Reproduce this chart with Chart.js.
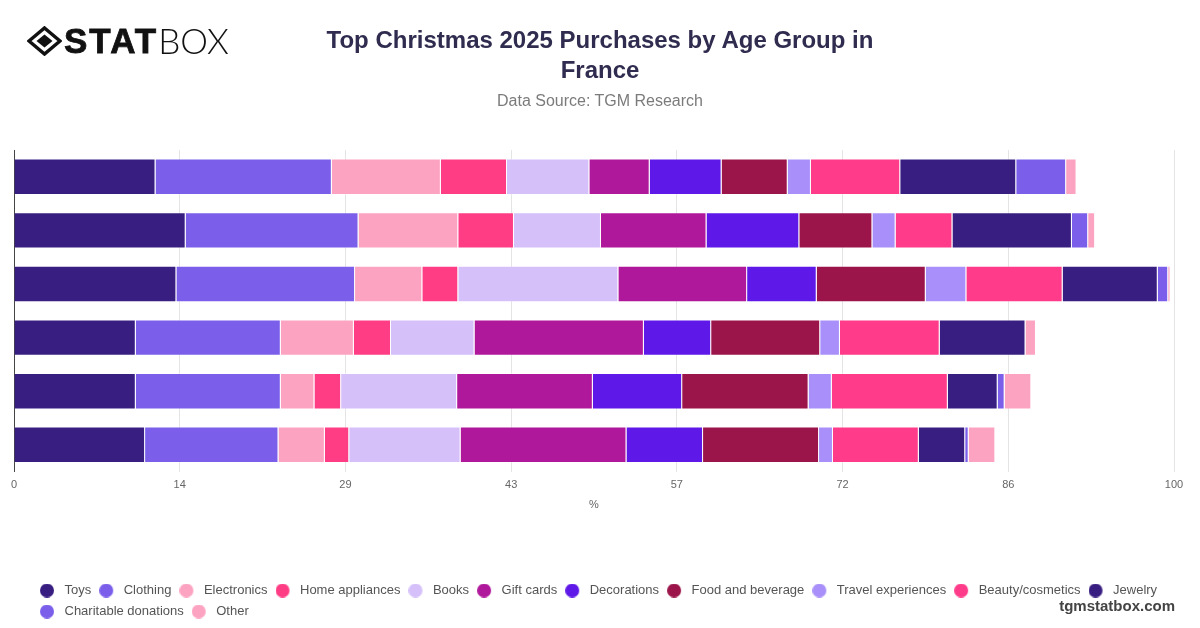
<!DOCTYPE html>
<html>
<head>
<meta charset="utf-8">
<title>Top Christmas 2025 Purchases by Age Group in France</title>
<script src="https://cdn.jsdelivr.net/npm/chart.js@4.4.1/dist/chart.umd.min.js"></script>
<style>
  html, body { margin: 0; padding: 0; background: #fff; }
  #wrap { position: relative; width: 1200px; height: 628px; overflow: hidden; }
  #chart { position: absolute; left: 0; top: 0; }
  .logo { position: absolute; left: 27px; top: 23px; display: flex; align-items: center; color: #111; line-height: 1; }
  .logo svg { margin-right: 2px; }
  .logo .stat { font-family: 'Liberation Sans', Arial, sans-serif; font-weight: 700; font-size: 35px; letter-spacing: 2px; -webkit-text-stroke: 0.8px #111; }
  .logo .box { font-family: Lato, sans-serif; font-weight: 300; font-size: 35px; }
  .head { position: absolute; left: 0; width: 1200px; text-align: center; font-family: 'Liberation Sans', Arial, sans-serif; }
  .head h1 { margin: 0; position: absolute; top: 25px; width: 100%; font-size: 24px; line-height: 30px; font-weight: bold; color: #2f2c4f; }
  .head .src { position: absolute; top: 91px; width: 100%; font-size: 16px; line-height: 20px; color: #7b7b7b; }
  .site { position: absolute; right: 25px; top: 597px; font: bold 15px 'Liberation Sans', Arial, sans-serif; color: #444; }
</style>
</head>
<body>
<div id="wrap">
  <canvas id="chart" width="1200" height="628"></canvas>
  <div class="logo">
    <svg width="35" height="30" viewBox="0 0 35 30">
      <path d="M17.5 2 L33 15 L17.5 28 L2 15 Z" fill="none" stroke="#111" stroke-width="3.5" stroke-linejoin="miter"/>
      <path d="M17.5 8.5 L25.5 15 L17.5 21.5 L9.5 15 Z" fill="#111"/>
    </svg>
    <span class="stat">STAT</span><span class="box">BOX</span>
  </div>
  <div class="head">
    <h1>Top Christmas 2025 Purchases by Age Group in<br>France</h1>
    <div class="src">Data Source: TGM Research</div>
  </div>
  <div class="site">tgmstatbox.com</div>
</div>
<script>
// age groups, top bar first (labels are hidden on the chart)
const ageGroups = ['18-24', '25-34', '35-44', '45-54', '55-64', '65+'];

// share of purchases, %
const toys        = [12.2, 14.8, 14.0, 10.5, 10.5, 11.3];
const clothing    = [15.2, 14.9, 15.4, 12.5, 12.5, 11.5];
const electronics = [9.4, 8.6, 5.8, 6.3, 2.9, 4.0];
const homeAppl    = [5.7, 4.8, 3.1, 3.2, 2.3, 2.1];
const books       = [7.1, 7.5, 13.8, 7.2, 10.0, 9.6];
const giftCards   = [5.2, 9.1, 11.1, 14.6, 11.7, 14.3];
const decorations = [6.2, 8.0, 6.0, 5.8, 7.7, 6.6];
const foodBev     = [5.7, 6.3, 9.4, 9.4, 10.9, 10.0];
const travel      = [2.0, 2.0, 3.5, 1.7, 2.0, 1.2];
const beauty      = [7.7, 4.9, 8.3, 8.6, 10.0, 7.4];
const jewelry     = [10.0, 10.3, 8.2, 7.4, 4.3, 4.0];
const charity     = [4.3, 1.4, 0.9, 0, 0.6, 0.3];
const other       = [0.9, 0.6, 0.2, 0.9, 2.3, 2.3];

const xTickLabels = ['0', '14', '29', '43', '57', '72', '86', '100'];

const seriesNames = ['Toys', 'Clothing', 'Electronics', 'Home appliances', 'Books', 'Gift cards',
  'Decorations', 'Food and beverage', 'Travel experiences', 'Beauty/cosmetics', 'Jewelry',
  'Charitable donations', 'Other'];
const seriesValues = [toys, clothing, electronics, homeAppl, books, giftCards, decorations,
  foodBev, travel, beauty, jewelry, charity, other];
const seriesColors = ['#391e82', '#7b5fea', '#fda3c2', '#ff3d85', '#d5c0fa', '#b0189b',
  '#5e18e7', '#9b154a', '#a88ff9', '#ff3b8a', '#391e82', '#7b5fea', '#fda3c2'];

Chart.defaults.font.family = "'Liberation Sans', Arial, Helvetica, sans-serif";

// round legend marker with a little extra room on its right
function legendDot(color) {
  const c = document.createElement('canvas');
  c.width = 18;
  c.height = 14;
  const g = c.getContext('2d');
  g.fillStyle = color;
  g.beginPath();
  g.arc(7, 7, 7, 0, Math.PI * 2);
  g.fill();
  return c;
}

// legend starts a bit right of the plot's left edge
const legendShift = {
  id: 'legendShift',
  afterLayout(chart) {
    if (!chart.legend) return;
    chart.legend.left += 18;
    chart.legend.right += 18;
  }
};

const datasets = seriesNames.map((name, i) => ({
  label: name,
  data: seriesValues[i],
  backgroundColor: seriesColors[i],
  borderColor: 'rgba(255,255,255,0.3)',
  borderWidth: 1
}));

new Chart(document.getElementById('chart'), {
  type: 'bar',
  data: { labels: ageGroups, datasets: datasets },
  options: {
    indexAxis: 'y',
    responsive: false,
    animation: false,
    layout: { padding: { left: 14, right: 26, top: 150, bottom: 0 } },
    datasets: { bar: { categoryPercentage: 0.8, barPercentage: 0.85 } },
    plugins: {
      tooltip: { enabled: false },
      legend: {
        position: 'bottom',
        align: 'start',
        labels: {
          usePointStyle: true,
          pointStyleWidth: 18,
          boxHeight: 13,
          padding: 8,
          color: '#555',
          font: { size: 13 },
          generateLabels(chart) {
            const items = Chart.defaults.plugins.legend.labels.generateLabels(chart);
            items.forEach(item => { item.pointStyle = legendDot(seriesColors[item.datasetIndex]); });
            return items;
          }
        }
      }
    },
    scales: {
      x: {
        stacked: true,
        min: 0,
        max: 100,
        afterBuildTicks(scale) {
          scale.ticks = xTickLabels.map((t, i) => ({ value: i * 100 / (xTickLabels.length - 1) }));
        },
        ticks: {
          color: '#666',
          font: { size: 11 },
          padding: 7,
          maxRotation: 0,
          callback: (value, index) => xTickLabels[index]
        },
        grid: { color: '#e4e4e4', drawTicks: false },
        border: { display: false },
        title: {
          display: true,
          text: '%',
          color: '#666',
          font: { size: 11 },
          padding: { top: 0, bottom: 64 }
        }
      },
      y: {
        stacked: true,
        ticks: { display: false },
        grid: { display: false, drawTicks: false },
        border: { display: true, color: '#444', width: 1 }
      }
    }
  },
  plugins: [legendShift]
});
</script>
</body>
</html>
